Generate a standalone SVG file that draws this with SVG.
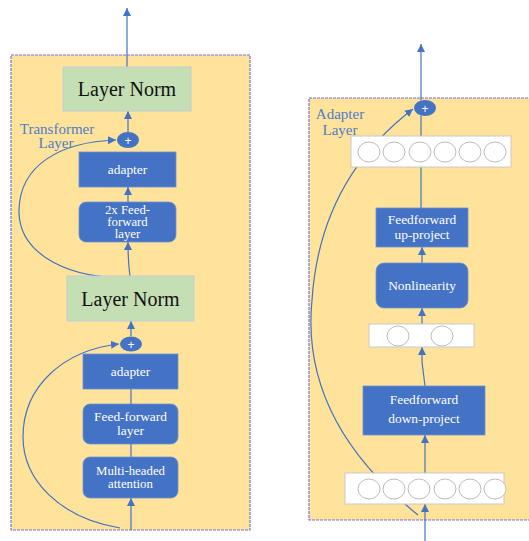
<svg xmlns="http://www.w3.org/2000/svg" width="529" height="541" viewBox="0 0 529 541">
<style>
.panel{fill:#FFE39B;stroke:#7373D9;stroke-width:1.2;stroke-dasharray:3 1}
.norm{fill:#C5DFB4;stroke:#BFCCD9;stroke-width:1}
.blue{fill:#4472C4;stroke:#6E92D4;stroke-width:0.8}
.wbox{fill:#FFFFFF;stroke:#C9C9C9;stroke-width:1}
.cell{fill:#FFFFFF;stroke:#BDBDBD;stroke-width:1}
.ln{fill:none;stroke:#4472C4;stroke-width:1.2}
.arr{fill:none;stroke:#4472C4;stroke-width:1.2;marker-end:url(#ah)}
.t{font-family:"Liberation Serif","Times New Roman",serif;text-anchor:middle}
.w{fill:#FFFFFF;font-size:13.4px}
.s{font-size:12.8px}
.nt{fill:#111111;font-size:20px}
.lbl{fill:#4F7CC9;font-size:15px}
.plus{fill:#4472C4}
.pt{fill:#FFFFFF;font-family:"Liberation Sans",Arial,sans-serif;font-size:12px;text-anchor:middle}
</style>
<defs>
<marker id="ah" viewBox="0 0 10 10" refX="10" refY="5" markerWidth="8" markerHeight="8" markerUnits="userSpaceOnUse" orient="auto">
<path d="M0,0 L10,5 L0,10 z" fill="#4472C4"/>
</marker>
</defs>
<rect width="529" height="541" fill="#FFFFFF"/>

<g id="transformer-panel">
<rect class="panel" x="11" y="55" width="239" height="475"/>
</g>
<g id="adapter-panel">
<rect class="panel" x="309" y="98" width="240" height="422"/>
</g>

<g id="connectors">
<line class="arr" x1="127" y1="67" x2="127" y2="8"/>
<line class="arr" x1="128" y1="132" x2="128" y2="111"/>
<line class="arr" x1="128" y1="202" x2="128" y2="187"/>
<path class="arr" d="M130,276 C128,262 128,255 128,242"/>
<path class="arr" d="M120,278 C60,276 18,250 19,210 C20,165 60,142 116,140"/>
<line class="arr" x1="131" y1="336" x2="131" y2="321"/>
<line class="ln" x1="131" y1="404" x2="131" y2="389"/>
<line class="ln" x1="131" y1="457" x2="131" y2="444"/>
<line class="arr" x1="131" y1="530" x2="131" y2="498"/>
<path class="arr" d="M120,528 C60,518 23,480 23,437 C23,385 65,350 119,344"/>
<line class="arr" x1="421" y1="100" x2="421" y2="44"/>
<line class="ln" x1="421" y1="136" x2="421" y2="116"/>
<line class="ln" x1="421" y1="208" x2="421" y2="167"/>
<line class="arr" x1="422" y1="263" x2="422" y2="247"/>
<line class="arr" x1="422" y1="324" x2="422" y2="308"/>
<path class="arr" d="M425,386 L422,362 L422,347"/>
<line class="arr" x1="425" y1="473" x2="425" y2="435"/>
<line class="arr" x1="425" y1="541" x2="425" y2="504"/>
<path class="arr" d="M418,515 Q300,420 312,300 Q320,180 413,109"/>
</g>

<g id="layer-norm-top">
<rect class="norm" x="63" y="67" width="128" height="44"/>
<text class="t nt" x="127" y="96">Layer Norm</text>
</g>
<g id="plus-top">
<ellipse class="plus" cx="128" cy="140" rx="11" ry="8"/>
<text class="pt" x="128" y="144.5">+</text>
</g>
<g id="adapter-top">
<rect class="blue" x="79" y="152" width="97" height="35"/>
<text class="t w" x="127.5" y="174">adapter</text>
</g>
<g id="ff2x">
<rect class="blue" x="79" y="202" width="97" height="40" rx="7"/>
<text class="t w s" x="127.5" y="213.5">2x Feed-</text>
<text class="t w s" x="127.5" y="226">forward</text>
<text class="t w s" x="127.5" y="238">layer</text>
</g>
<g id="transformer-label">
<text class="t lbl" x="57" y="134">Transformer</text>
<text class="t lbl" x="56" y="148">Layer</text>
</g>
<g id="layer-norm-bottom">
<rect class="norm" x="67" y="276" width="127" height="45"/>
<text class="t nt" x="130.5" y="305.5">Layer Norm</text>
</g>
<g id="plus-bottom">
<ellipse class="plus" cx="131" cy="344" rx="11" ry="7.5"/>
<text class="pt" x="131" y="348.5">+</text>
</g>
<g id="adapter-bottom">
<rect class="blue" x="83" y="354" width="95" height="35"/>
<text class="t w" x="130.5" y="376">adapter</text>
</g>
<g id="feed-forward">
<rect class="blue" x="83" y="404" width="95" height="40" rx="7"/>
<text class="t w" x="130.5" y="421">Feed-forward</text>
<text class="t w" x="130.5" y="435">layer</text>
</g>
<g id="attention">
<rect class="blue" x="83" y="457" width="95" height="41" rx="7"/>
<text class="t w s" x="130.5" y="475">Multi-headed</text>
<text class="t w s" x="130.5" y="487.5">attention</text>
</g>

<g id="adapter-label">
<text class="t lbl" x="340" y="119">Adapter</text>
<text class="t lbl" x="340" y="135">Layer</text>
</g>
<g id="plus-right">
<ellipse class="plus" cx="425" cy="108" rx="11" ry="8"/>
<text class="pt" x="425" y="112.5">+</text>
</g>
<g id="output-vector">
<rect class="wbox" x="351" y="136" width="160" height="31"/>
<ellipse class="cell" cx="369" cy="152" rx="11" ry="10"/>
<ellipse class="cell" cx="394" cy="152" rx="11" ry="10"/>
<ellipse class="cell" cx="420" cy="152" rx="11" ry="10"/>
<ellipse class="cell" cx="445" cy="152" rx="11" ry="10"/>
<ellipse class="cell" cx="470" cy="152" rx="11" ry="10"/>
<ellipse class="cell" cx="495" cy="152" rx="11" ry="10"/>
</g>
<g id="up-project">
<rect class="blue" x="376" y="208" width="92" height="39"/>
<text class="t w" x="422" y="224">Feedforward</text>
<text class="t w" x="422" y="239">up-project</text>
</g>
<g id="nonlinearity">
<rect class="blue" x="376" y="263" width="92" height="45" rx="8"/>
<text class="t w" x="422" y="289.5">Nonlinearity</text>
</g>
<g id="bottleneck-vector">
<rect class="wbox" x="369" y="324" width="105" height="23"/>
<ellipse class="cell" cx="398" cy="336" rx="11" ry="10"/>
<ellipse class="cell" cx="442" cy="336" rx="11" ry="10"/>
</g>
<g id="down-project">
<rect class="blue" x="363" y="386" width="122" height="49"/>
<text class="t w" x="424" y="404">Feedforward</text>
<text class="t w" x="424" y="423">down-project</text>
</g>
<g id="input-vector">
<rect class="wbox" x="345" y="473" width="159" height="31"/>
<ellipse class="cell" cx="369" cy="489" rx="11" ry="10"/>
<ellipse class="cell" cx="394" cy="489" rx="11" ry="10"/>
<ellipse class="cell" cx="419" cy="489" rx="11" ry="10"/>
<ellipse class="cell" cx="445" cy="489" rx="11" ry="10"/>
<ellipse class="cell" cx="470" cy="489" rx="11" ry="10"/>
<ellipse class="cell" cx="495" cy="489" rx="11" ry="10"/>
</g>
</svg>
